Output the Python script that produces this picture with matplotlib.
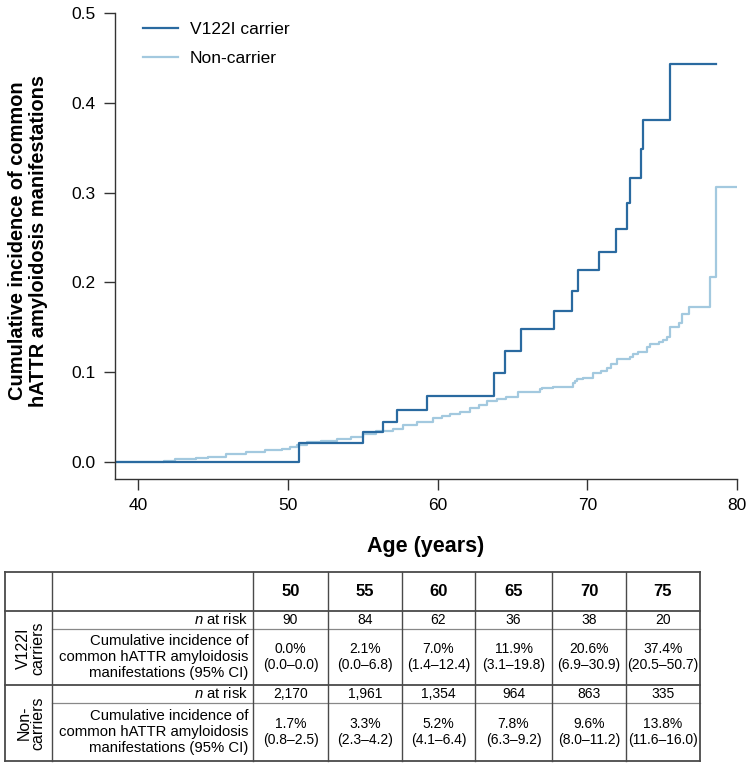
import matplotlib
matplotlib.use('Agg')
import matplotlib.pyplot as plt
from matplotlib.lines import Line2D

# cumulative incidence step curves (age at event, cumulative incidence)
carrier_age = [38.5, 50.75, 55.05, 56.35, 57.3, 59.27, 63.77, 64.5, 65.6, 67.8, 69.0,
               69.35, 70.8, 71.9, 72.63, 72.85, 73.57, 73.74, 75.55, 78.6]
carrier_cif = [0.0, 0.0211, 0.033, 0.0445, 0.0574, 0.0735, 0.0988, 0.1236, 0.148, 0.1687,
               0.1908, 0.2138, 0.234, 0.2595, 0.2888, 0.3159, 0.3486, 0.381, 0.4429, 0.4429]

noncarrier_age = [38.5, 41.7, 42.5, 43.9, 44.7, 45.9, 47.2, 48.5, 49.6, 50.15, 50.6, 51.3,
                  52.2, 53.3, 54.2, 55.05, 55.9, 57.05, 57.7, 58.6, 59.7, 60.3, 60.8, 61.5,
                  62.2, 62.8, 63.3, 64.0, 64.6, 65.4, 66.85, 66.96, 67.7, 69.07, 69.2, 69.3,
                  69.7, 70.4, 70.9, 71.3, 71.6, 71.96, 72.85, 73.07, 73.4, 73.96, 74.2, 74.8,
                  75.08, 75.35, 75.5, 76.1, 76.3, 76.8, 78.23, 78.63, 79.93]
noncarrier_cif = [0.0, 0.001, 0.003, 0.004, 0.006, 0.009, 0.011, 0.013, 0.015, 0.017, 0.019,
                  0.022, 0.023, 0.026, 0.028, 0.031, 0.0345, 0.037, 0.041, 0.045, 0.0487,
                  0.051, 0.0535, 0.056, 0.060, 0.064, 0.068, 0.070, 0.0727, 0.078, 0.081,
                  0.0828, 0.0835, 0.0876, 0.090, 0.092, 0.094, 0.0988, 0.101, 0.105, 0.109,
                  0.1147, 0.117, 0.120, 0.1229, 0.1284, 0.1314, 0.1333, 0.136, 0.1396,
                  0.1507, 0.1544, 0.1648, 0.173, 0.2057, 0.3066, 0.3066]

# risk table
table_ages = ['50', '55', '60', '65', '70', '75']
carrier_n = ['90', '84', '62', '36', '38', '20']
carrier_ci = ['0.0%\n(0.0\u20130.0)', '2.1%\n(0.0\u20136.8)', '7.0%\n(1.4\u201312.4)',
              '11.9%\n(3.1\u201319.8)', '20.6%\n(6.9\u201330.9)', '37.4%\n(20.5\u201350.7)']
noncarrier_n = ['2,170', '1,961', '1,354', '964', '863', '335']
noncarrier_ci = ['1.7%\n(0.8\u20132.5)', '3.3%\n(2.3\u20134.2)', '5.2%\n(4.1\u20136.4)',
                 '7.8%\n(6.3\u20139.2)', '9.6%\n(8.0\u201311.2)', '13.8%\n(11.6\u201316.0)']

dark = '#2a6aa0'
light = '#a3c9df'
plt.rcParams['font.family'] = ['Liberation Sans', 'DejaVu Sans']
plt.rcParams['mathtext.fontset'] = 'custom'
plt.rcParams['mathtext.it'] = 'Liberation Sans:italic'
plt.rcParams['mathtext.rm'] = 'Liberation Sans'

fig = plt.figure(figsize=(7.49, 7.64), dpi=100)
ax = fig.add_axes([115/749, 1-479/764, 622/749, 466/764])

ax.step(noncarrier_age, noncarrier_cif, where='post', color=light, lw=1.6)
ax.step(carrier_age, carrier_cif, where='post', color=dark, lw=1.6)

ax.set_xlim(38.46, 80)
ax.set_ylim(-0.0189, 0.5)
ax.set_xticks([40, 50, 60, 70, 80])
ax.set_yticks([0.0, 0.1, 0.2, 0.3, 0.4, 0.5])
ax.set_yticklabels(['0.0', '0.1', '0.2', '0.3', '0.4', '0.5'])
for s in ['top', 'right']:
    ax.spines[s].set_visible(False)
for s in ['left', 'bottom']:
    ax.spines[s].set_color('#333333')
    ax.spines[s].set_linewidth(1.0)
ax.tick_params(length=8, width=1.0, color='#333333', labelsize=12.5, pad=6)

ax.set_ylabel('Cumulative incidence of common\nhATTR amyloidosis manifestations',
              fontweight='bold', fontsize=14.4, linespacing=1.1)
ax.yaxis.set_label_coords(-0.108, 0.511)
ax.set_xlabel('Age (years)', fontweight='bold', fontsize=15.5, labelpad=16)

handles = [Line2D([], [], color=dark, lw=1.6), Line2D([], [], color=light, lw=1.6)]
ax.legend(handles, ['V122I carrier', 'Non-carrier'], loc='upper left', frameon=False,
          fontsize=12.5, handlelength=2.0, handletextpad=0.7, labelspacing=0.8,
          bbox_to_anchor=(0.02, 1.015))

# table drawn in figure pixel units
tax = fig.add_axes([0, 0, 1, 1])
tax.set_xlim(0, 749)
tax.set_ylim(764, 0)
tax.axis('off')

col_edges = [5, 52, 253, 328, 402, 475, 552, 626, 700]
row_edges = [572, 611, 629, 685, 703, 761]
line_c = '#4a4a4a'
for yv in [572, 611, 685, 761]:
    tax.plot([5, 700], [yv, yv], color=line_c, lw=1.3)
for yv in [629, 703]:
    tax.plot([52, 700], [yv, yv], color='#888888', lw=0.9)
for xv in col_edges:
    tax.plot([xv, xv], [572, 761], color=line_c, lw=1.3 if xv in (5, 700) else 1.0)

centers = [(col_edges[i] + col_edges[i+1]) / 2 for i in range(2, 8)]
rmid = [(row_edges[i] + row_edges[i+1]) / 2 for i in range(5)]
for i, c in enumerate(centers):
    tax.text(c, rmid[0], table_ages[i], ha='center', va='center', fontsize=12, fontweight='bold')
    tax.text(c, rmid[1], carrier_n[i], ha='center', va='center', fontsize=10)
    tax.text(c, rmid[2], carrier_ci[i], ha='center', va='center', fontsize=10, linespacing=1.2)
    tax.text(c, rmid[3], noncarrier_n[i], ha='center', va='center', fontsize=10)
    tax.text(c, rmid[4], noncarrier_ci[i], ha='center', va='center', fontsize=10, linespacing=1.2)

row_label = 'Cumulative incidence of\ncommon hATTR amyloidosis\nmanifestations (95% CI)'
for r in (1, 3):
    tax.text(248, rmid[r], r'$n$ at risk', ha='right', va='center', fontsize=10.7)
for r in (2, 4):
    tax.text(248, rmid[r], row_label, ha='right', va='center', fontsize=10.7,
             multialignment='right', linespacing=1.17)

tax.text(31, (611 + 685) / 2, 'V122I\ncarriers', rotation=90, ha='center', va='center',
         fontsize=11.5, linespacing=0.95)
tax.text(31, (685 + 761) / 2, 'Non-\ncarriers', rotation=90, ha='center', va='center',
         fontsize=11.5, linespacing=0.95)

fig.savefig('out.png', dpi=100)
